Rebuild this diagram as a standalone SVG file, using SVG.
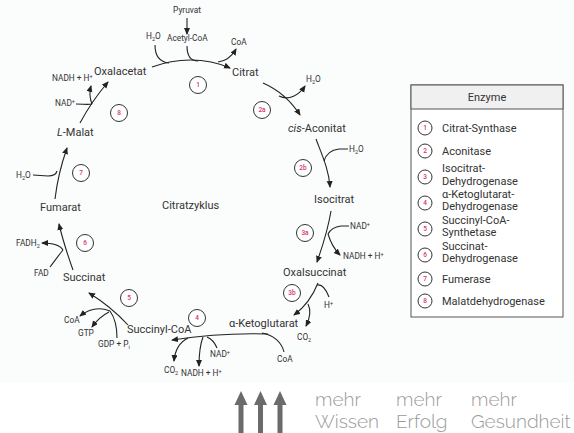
<svg xmlns="http://www.w3.org/2000/svg" width="574" height="433" viewBox="0 0 574 433">
<defs>
<marker id="ah" markerUnits="userSpaceOnUse" markerWidth="8" markerHeight="7" refX="6" refY="3" orient="auto">
<path d="M0,0 L7,3 L0,6 z" fill="#222"/>
</marker>
</defs>
<style>
.lbl{font-family:Roboto,"Liberation Sans",sans-serif;font-size:11px;fill:#333}
.sm{font-family:Roboto,"Liberation Sans",sans-serif;font-size:8.3px;fill:#333}
.ttl{font-family:Roboto,"Liberation Sans",sans-serif;font-size:11px;fill:#333}
.leg{font-family:Roboto,"Liberation Sans",sans-serif;font-size:11px;fill:#333}
.num{font-family:Roboto,"Liberation Sans",sans-serif;font-size:6.5px;fill:#d6336c;text-anchor:middle;font-weight:500}
.ec{fill:#fff;stroke:#333;stroke-width:1}
.c{fill:none;stroke:#222;stroke-width:1.1}
.ca{fill:none;stroke:#222;stroke-width:1.1;marker-end:url(#ah)}
.brand{font-family:Raleway,Lato,"Open Sans",sans-serif;font-weight:300;font-size:19px;fill:#9a9a9a}
</style>
<rect x="0" y="0" width="574" height="383" fill="#fbfcfc"/>
<rect x="0" y="383" width="574" height="50" fill="#fff"/>

<g id="connectors">
<path class="ca" d="M187,18 L187,34"/>
<path class="ca" d="M152,67 C176,58 205,57 230,68"/>
<path class="c" d="M155,45 C155,56 159,62 169,63"/>
<path class="c" d="M187,46 C187,56 190,61 198,61"/>
<path class="ca" d="M218,62 C227,61 232,56 236,49"/>
<path class="ca" d="M263,83 C279,90 291,101 300,115"/>
<path class="ca" d="M279,96 C289,101 299,95 305,86"/>
<path class="ca" d="M316,139 C322,155 329,170 330,187"/>
<path class="c" d="M348,149 L339,149 C331,150 326,154 324,161"/>
<path class="ca" d="M331,211 C328,229 323,245 317,262"/>
<path class="c" d="M349,226 L341,226 C334,227 330,230 328,234"/>
<path class="ca" d="M328,234 C331,244 335,250 340,255"/>
<path class="ca" d="M318,283 C312,298 305,307 294,315"/>
<path class="c" d="M329,297 C326,289 322,284 317,285"/>
<path class="ca" d="M308,304 C311,310 310,318 306,326"/>
<path class="ca" d="M268,334 C240,333 205,335 172,340"/>
<path class="c" d="M262,333 C274,335 282,343 284,352"/>
<path class="c" d="M217,348 C215,343 212,339 207,337"/>
<path class="ca" d="M203,337 C200,345 199,355 199,366"/>
<path class="ca" d="M188,338 C180,342 175,350 174,361"/>
<path class="ca" d="M128,325 C116,312 102,301 89,293"/>
<path class="c" d="M117,338 C117,328 115,318 110,311"/>
<path class="ca" d="M110,311 C100,307 89,309 80,316"/>
<path class="ca" d="M109,312 C103,315 97,320 92,327"/>
<path class="ca" d="M73,270 C68,256 63,241 59,224"/>
<path class="c" d="M50,267 C54,262 58,256 63,250"/>
<path class="ca" d="M63,250 C60,245 53,243 42,243"/>
<path class="ca" d="M55,199 C57,182 61,165 67,148"/>
<path class="c" d="M33,175 L48,176 C53,176 56,175 57,171"/>
<path class="ca" d="M80,123 C88,108 97,95 108,82"/>
<path class="c" d="M76,104 C83,104 88,105 92,104"/>
<path class="ca" d="M92,104 C90,99 89,93 91,86"/>
</g>

<g id="n-pyruvat"><text class="sm" x="187" y="13" text-anchor="middle">Pyruvat</text></g>
<g id="n-h2o-1"><text class="sm" x="146" y="39">H<tspan font-size="5.5" dy="1.5">2</tspan><tspan dy="-1.5">O</tspan></text></g>
<g id="n-acetylcoa"><text class="sm" x="167" y="41">Acetyl-CoA</text></g>
<g id="n-coa-1"><text class="sm" x="231" y="45">CoA</text></g>
<g id="n-oxalacetat"><text class="lbl" x="94" y="75">Oxalacetat</text></g>
<g id="n-citrat"><text class="lbl" x="232" y="76">Citrat</text></g>
<g id="e1"><circle class="ec" cx="198" cy="85" r="8.5"/><text class="num" x="198" y="87.3">1</text></g>
<g id="n-h2o-2"><text class="sm" x="306" y="82">H<tspan font-size="5.5" dy="1.5">2</tspan><tspan dy="-1.5">O</tspan></text></g>
<g id="e2a"><circle class="ec" cx="262" cy="110" r="8.5"/><text class="num" x="262" y="112.3">2a</text></g>
<g id="n-cisaconitat"><text class="lbl" x="288" y="132"><tspan font-style="italic">cis</tspan>-Aconitat</text></g>
<g id="n-h2o-3"><text class="sm" x="349" y="152">H<tspan font-size="5.5" dy="1.5">2</tspan><tspan dy="-1.5">O</tspan></text></g>
<g id="e2b"><circle class="ec" cx="303" cy="168" r="8.5"/><text class="num" x="303" y="170.3">2b</text></g>
<g id="n-isocitrat"><text class="lbl" x="314" y="203">Isocitrat</text></g>
<g id="n-title"><text class="ttl" x="162" y="209">Citratzyklus</text></g>
<g id="n-nad-1"><text class="sm" x="350" y="229">NAD<tspan font-size="5.5" dy="-3">+</tspan></text></g>
<g id="e3a"><circle class="ec" cx="305" cy="233" r="8.5"/><text class="num" x="305" y="235.3">3a</text></g>
<g id="n-nadh-1"><text class="sm" x="343" y="259">NADH + H<tspan font-size="5.5" dy="-3">+</tspan></text></g>
<g id="n-oxalsuccinat"><text class="lbl" x="283" y="276">Oxalsuccinat</text></g>
<g id="e3b"><circle class="ec" cx="292" cy="293" r="8.5"/><text class="num" x="292" y="295.3">3b</text></g>
<g id="n-h"><text class="sm" x="324" y="308">H<tspan font-size="5.5" dy="-3">+</tspan></text></g>
<g id="n-akg"><text class="lbl" x="229" y="327">α-Ketoglutarat</text></g>
<g id="n-co2-1"><text class="sm" x="297" y="340">CO<tspan font-size="5.5" dy="1.5">2</tspan></text></g>
<g id="e4"><circle class="ec" cx="197" cy="318" r="8.5"/><text class="num" x="197" y="320.3">4</text></g>
<g id="n-succoa"><text class="lbl" x="127" y="333">Succinyl-CoA</text></g>
<g id="n-nad-2"><text class="sm" x="210" y="357">NAD<tspan font-size="5.5" dy="-3">+</tspan></text></g>
<g id="n-coa-2"><text class="sm" x="277" y="362">CoA</text></g>
<g id="n-co2-2"><text class="sm" x="164" y="373">CO<tspan font-size="5.5" dy="1.5">2</tspan></text></g>
<g id="n-nadh-2"><text class="sm" x="181" y="376">NADH + H<tspan font-size="5.5" dy="-3">+</tspan></text></g>
<g id="e5"><circle class="ec" cx="129" cy="298" r="8.5"/><text class="num" x="129" y="300.3">5</text></g>
<g id="n-coa-3"><text class="sm" x="64" y="323">CoA</text></g>
<g id="n-gtp"><text class="sm" x="78" y="336">GTP</text></g>
<g id="n-gdp"><text class="sm" x="98" y="347">GDP + P<tspan font-size="5.5" dy="1.5">i</tspan></text></g>
<g id="n-succinat"><text class="lbl" x="63" y="281">Succinat</text></g>
<g id="n-fad"><text class="sm" x="34" y="276">FAD</text></g>
<g id="n-fadh2"><text class="sm" x="16" y="246">FADH<tspan font-size="5.5" dy="1.5">2</tspan></text></g>
<g id="e6"><circle class="ec" cx="85" cy="243" r="8.5"/><text class="num" x="85" y="245.3">6</text></g>
<g id="n-fumarat"><text class="lbl" x="40" y="211">Fumarat</text></g>
<g id="n-h2o-4"><text class="sm" x="16" y="178">H<tspan font-size="5.5" dy="1.5">2</tspan><tspan dy="-1.5">O</tspan></text></g>
<g id="e7"><circle class="ec" cx="81" cy="173" r="8.5"/><text class="num" x="81" y="175.3">7</text></g>
<g id="n-malat"><text class="lbl" x="57" y="136"><tspan font-style="italic">L</tspan>-Malat</text></g>
<g id="e8"><circle class="ec" cx="119" cy="113" r="8.5"/><text class="num" x="119" y="115.3">8</text></g>
<g id="n-nad-3"><text class="sm" x="55" y="106">NAD<tspan font-size="5.5" dy="-3">+</tspan></text></g>
<g id="n-nadh-3"><text class="sm" x="52" y="81">NADH + H<tspan font-size="5.5" dy="-3">+</tspan></text></g>

<g id="legend">
<rect x="411" y="85" width="152" height="232" fill="#fff" stroke="#555" stroke-width="1"/>
<rect x="411" y="85" width="152" height="24" fill="#f0f0f0" stroke="#555" stroke-width="1"/>
<text class="leg" x="487" y="101" text-anchor="middle">Enzyme</text>
<circle class="ec" cx="425" cy="128" r="7"/><text class="num" x="425" y="130.3">1</text>
<text class="leg" x="442" y="132">Citrat-Synthase</text>
<circle class="ec" cx="425" cy="151" r="7"/><text class="num" x="425" y="153.3">2</text>
<text class="leg" x="442" y="155">Aconitase</text>
<circle class="ec" cx="425" cy="177" r="7"/><text class="num" x="425" y="179.3">3</text>
<text class="leg" x="442" y="172">Isocitrat-</text>
<text class="leg" x="442" y="184.5">Dehydrogenase</text>
<circle class="ec" cx="425" cy="203" r="7"/><text class="num" x="425" y="205.3">4</text>
<text class="leg" x="442" y="197.5">α-Ketoglutarat-</text>
<text class="leg" x="442" y="210">Dehydrogenase</text>
<circle class="ec" cx="425" cy="229" r="7"/><text class="num" x="425" y="231.3">5</text>
<text class="leg" x="442" y="223.5">Succinyl-CoA-</text>
<text class="leg" x="442" y="236">Synthetase</text>
<circle class="ec" cx="425" cy="255" r="7"/><text class="num" x="425" y="257.3">6</text>
<text class="leg" x="442" y="249.5">Succinat-</text>
<text class="leg" x="442" y="262">Dehydrogenase</text>
<circle class="ec" cx="425" cy="279" r="7"/><text class="num" x="425" y="281.3">7</text>
<text class="leg" x="442" y="283">Fumerase</text>
<circle class="ec" cx="425" cy="301" r="7"/><text class="num" x="425" y="303.3">8</text>
<text class="leg" x="442" y="305">Malatdehydrogenase</text>
</g>

<g id="brand">
<g fill="#6b6b6b">
<path d="M241,391 L247.5,405 L243.5,405 L243.5,433 L238.5,433 L238.5,405 L234.5,405 z"/>
<path d="M260.5,391 L267,405 L263,405 L263,433 L258,433 L258,405 L254,405 z"/>
<path d="M280,391 L286.5,405 L282.5,405 L282.5,433 L277.5,433 L277.5,405 L273.5,405 z"/>
</g>
<text class="brand" x="315" y="406">mehr</text>
<text class="brand" x="315" y="428">Wissen</text>
<text class="brand" x="396" y="406">mehr</text>
<text class="brand" x="396" y="428">Erfolg</text>
<text class="brand" x="471" y="406">mehr</text>
<text class="brand" x="471" y="428">Gesundheit</text>
</g>
</svg>
